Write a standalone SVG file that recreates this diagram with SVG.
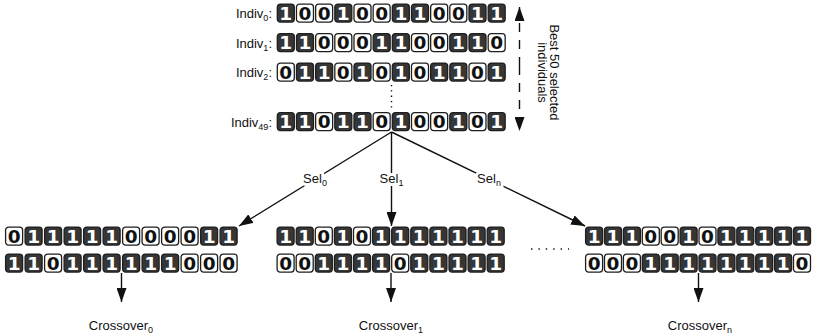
<svg xmlns="http://www.w3.org/2000/svg" xmlns:xlink="http://www.w3.org/1999/xlink" width="815" height="334" viewBox="0 0 815 334">
<style>
.dk{fill:#363636;stroke:#1e1e1e;stroke-width:1.3}
.lt{fill:#ffffff;stroke:#1e1e1e;stroke-width:1.3}
.dg{font-family:"DejaVu Sans",sans-serif;font-weight:bold;font-size:18.5px;text-anchor:middle}
.lbl{font-family:"Liberation Sans",Arial,sans-serif;font-size:13px;fill:#111}
.halo{fill:#fff;stroke:#fff;stroke-width:6px;stroke-linejoin:round}
.ln{stroke:#111;stroke-width:1.4;fill:none}
</style>
<defs>
<marker id="ah" markerUnits="userSpaceOnUse" markerWidth="14" markerHeight="10" refX="14" refY="5" orient="auto">
<path d="M0,0 L14,5 L0,10 z" fill="#111"/>
</marker>
<g id="b1"><rect class="dk" x="0.6" y="0.6" width="17" height="18" rx="3"/><text class="dg" x="9.1" y="16.2" fill="#fff">1</text></g>
<g id="b0"><rect class="lt" x="0.6" y="0.6" width="17" height="18" rx="3"/><text class="dg" x="9.1" y="16.2" fill="#111">0</text></g>
</defs>

<g id="indiv0">
<text class="lbl" x="272" y="18" text-anchor="end">Indiv<tspan font-size="9" dy="3">0</tspan><tspan dy="-3">:</tspan></text>
<g transform="translate(276.7,3.5)">
<use xlink:href="#b1" x="0"/><use xlink:href="#b0" x="19.17"/><use xlink:href="#b0" x="38.34"/><use xlink:href="#b1" x="57.51"/><use xlink:href="#b0" x="76.68"/><use xlink:href="#b0" x="95.85"/><use xlink:href="#b1" x="115.02"/><use xlink:href="#b1" x="134.19"/><use xlink:href="#b0" x="153.36"/><use xlink:href="#b0" x="172.53"/><use xlink:href="#b1" x="191.7"/><use xlink:href="#b1" x="210.87"/>
</g>
</g>
<g id="indiv1">
<text class="lbl" x="272" y="47.5" text-anchor="end">Indiv<tspan font-size="9" dy="3">1</tspan><tspan dy="-3">:</tspan></text>
<g transform="translate(276.7,33)">
<use xlink:href="#b1" x="0"/><use xlink:href="#b1" x="19.17"/><use xlink:href="#b0" x="38.34"/><use xlink:href="#b0" x="57.51"/><use xlink:href="#b0" x="76.68"/><use xlink:href="#b1" x="95.85"/><use xlink:href="#b1" x="115.02"/><use xlink:href="#b0" x="134.19"/><use xlink:href="#b0" x="153.36"/><use xlink:href="#b1" x="172.53"/><use xlink:href="#b1" x="191.7"/><use xlink:href="#b0" x="210.87"/>
</g>
</g>
<g id="indiv2">
<text class="lbl" x="272" y="77" text-anchor="end">Indiv<tspan font-size="9" dy="3">2</tspan><tspan dy="-3">:</tspan></text>
<g transform="translate(276.7,62.5)">
<use xlink:href="#b0" x="0"/><use xlink:href="#b1" x="19.17"/><use xlink:href="#b1" x="38.34"/><use xlink:href="#b0" x="57.51"/><use xlink:href="#b1" x="76.68"/><use xlink:href="#b0" x="95.85"/><use xlink:href="#b1" x="115.02"/><use xlink:href="#b0" x="134.19"/><use xlink:href="#b1" x="153.36"/><use xlink:href="#b1" x="172.53"/><use xlink:href="#b0" x="191.7"/><use xlink:href="#b1" x="210.87"/>
</g>
</g>
<g id="indiv49">
<text class="lbl" x="272" y="126.5" text-anchor="end">Indiv<tspan font-size="9" dy="3">49</tspan><tspan dy="-3">:</tspan></text>
<g transform="translate(276.7,112)">
<use xlink:href="#b1" x="0"/><use xlink:href="#b1" x="19.17"/><use xlink:href="#b0" x="38.34"/><use xlink:href="#b1" x="57.51"/><use xlink:href="#b1" x="76.68"/><use xlink:href="#b0" x="95.85"/><use xlink:href="#b1" x="115.02"/><use xlink:href="#b0" x="134.19"/><use xlink:href="#b0" x="153.36"/><use xlink:href="#b1" x="172.53"/><use xlink:href="#b0" x="191.7"/><use xlink:href="#b1" x="210.87"/>
</g>
</g>

<g id="best50">
<text class="lbl" font-size="12" text-anchor="middle" transform="translate(549.5,72.5) rotate(90)">Best 50 selected</text>
<text class="lbl" font-size="12" text-anchor="middle" transform="translate(537.5,72.5) rotate(90)">individuals</text>
</g>

<g id="pair0">
<g transform="translate(5,226.5)">
<use xlink:href="#b0" x="0"/><use xlink:href="#b1" x="19.5"/><use xlink:href="#b1" x="39"/><use xlink:href="#b1" x="58.5"/><use xlink:href="#b1" x="78"/><use xlink:href="#b1" x="97.5"/><use xlink:href="#b0" x="117"/><use xlink:href="#b0" x="136.5"/><use xlink:href="#b0" x="156"/><use xlink:href="#b0" x="175.5"/><use xlink:href="#b1" x="195"/><use xlink:href="#b1" x="214.5"/>
</g>
<g transform="translate(5,253.5)">
<use xlink:href="#b1" x="0"/><use xlink:href="#b1" x="19.5"/><use xlink:href="#b0" x="39"/><use xlink:href="#b1" x="58.5"/><use xlink:href="#b1" x="78"/><use xlink:href="#b1" x="97.5"/><use xlink:href="#b1" x="117"/><use xlink:href="#b1" x="136.5"/><use xlink:href="#b1" x="156"/><use xlink:href="#b0" x="175.5"/><use xlink:href="#b0" x="195"/><use xlink:href="#b0" x="214.5"/>
</g>
</g>
<g id="pair1">
<g transform="translate(276.5,226.5)">
<use xlink:href="#b1" x="0"/><use xlink:href="#b1" x="19.1"/><use xlink:href="#b0" x="38.2"/><use xlink:href="#b1" x="57.3"/><use xlink:href="#b0" x="76.4"/><use xlink:href="#b1" x="95.5"/><use xlink:href="#b1" x="114.6"/><use xlink:href="#b1" x="133.7"/><use xlink:href="#b1" x="152.8"/><use xlink:href="#b1" x="171.9"/><use xlink:href="#b1" x="191"/><use xlink:href="#b1" x="210.1"/>
</g>
<g transform="translate(276.5,253.5)">
<use xlink:href="#b0" x="0"/><use xlink:href="#b0" x="19.1"/><use xlink:href="#b1" x="38.2"/><use xlink:href="#b1" x="57.3"/><use xlink:href="#b1" x="76.4"/><use xlink:href="#b1" x="95.5"/><use xlink:href="#b0" x="114.6"/><use xlink:href="#b1" x="133.7"/><use xlink:href="#b1" x="152.8"/><use xlink:href="#b1" x="171.9"/><use xlink:href="#b1" x="191"/><use xlink:href="#b1" x="210.1"/>
</g>
</g>
<g id="pairn">
<g transform="translate(585,226.5)">
<use xlink:href="#b1" x="0"/><use xlink:href="#b1" x="18.9"/><use xlink:href="#b1" x="37.8"/><use xlink:href="#b0" x="56.7"/><use xlink:href="#b0" x="75.6"/><use xlink:href="#b1" x="94.5"/><use xlink:href="#b0" x="113.4"/><use xlink:href="#b1" x="132.3"/><use xlink:href="#b1" x="151.2"/><use xlink:href="#b1" x="170.1"/><use xlink:href="#b1" x="189"/><use xlink:href="#b1" x="207.9"/>
</g>
<g transform="translate(585,253.5)">
<use xlink:href="#b0" x="0"/><use xlink:href="#b0" x="18.9"/><use xlink:href="#b0" x="37.8"/><use xlink:href="#b1" x="56.7"/><use xlink:href="#b1" x="75.6"/><use xlink:href="#b1" x="94.5"/><use xlink:href="#b1" x="113.4"/><use xlink:href="#b1" x="132.3"/><use xlink:href="#b1" x="151.2"/><use xlink:href="#b1" x="170.1"/><use xlink:href="#b1" x="189"/><use xlink:href="#b0" x="207.9"/>
</g>
</g>

<g id="connectors">
<line class="ln" x1="391.5" y1="85" x2="391.5" y2="110" stroke-dasharray="1.3 4"/>
<line class="ln" x1="531" y1="249" x2="569" y2="249" stroke-dasharray="1.4 6"/>
<line class="ln" x1="519.5" y1="66" x2="519.5" y2="7" stroke-dasharray="9 8" marker-end="url(#ah)"/>
<line class="ln" x1="519.5" y1="66" x2="519.5" y2="131" stroke-dasharray="9 8" marker-end="url(#ah)"/>
<line class="ln" x1="391.5" y1="132" x2="239" y2="226" marker-end="url(#ah)"/>
<line class="ln" x1="391.5" y1="132" x2="391.5" y2="226" marker-end="url(#ah)"/>
<line class="ln" x1="391.5" y1="132" x2="585" y2="226" marker-end="url(#ah)"/>
<line class="ln" x1="121.5" y1="273" x2="121.5" y2="302" marker-end="url(#ah)"/>
<line class="ln" x1="391" y1="273" x2="391" y2="302" marker-end="url(#ah)"/>
<line class="ln" x1="698.5" y1="273" x2="698.5" y2="302" marker-end="url(#ah)"/>
<text class="lbl halo" x="315" y="183" text-anchor="middle">Sel<tspan font-size="9" dy="3">0</tspan></text>
<text class="lbl halo" x="391.5" y="183" text-anchor="middle">Sel<tspan font-size="9" dy="3">1</tspan></text>
<text class="lbl halo" x="489" y="183" text-anchor="middle">Sel<tspan font-size="9" dy="3">n</tspan></text>
<text class="lbl" x="315" y="183" text-anchor="middle">Sel<tspan font-size="9" dy="3">0</tspan></text>
<text class="lbl" x="391.5" y="183" text-anchor="middle">Sel<tspan font-size="9" dy="3">1</tspan></text>
<text class="lbl" x="489" y="183" text-anchor="middle">Sel<tspan font-size="9" dy="3">n</tspan></text>
</g>

<g id="crossover">
<text class="lbl" x="121" y="330" text-anchor="middle">Crossover<tspan font-size="9" dy="3">0</tspan></text>
<text class="lbl" x="391" y="330" text-anchor="middle">Crossover<tspan font-size="9" dy="3">1</tspan></text>
<text class="lbl" x="700" y="330" text-anchor="middle">Crossover<tspan font-size="9" dy="3">n</tspan></text>
</g>
</svg>
